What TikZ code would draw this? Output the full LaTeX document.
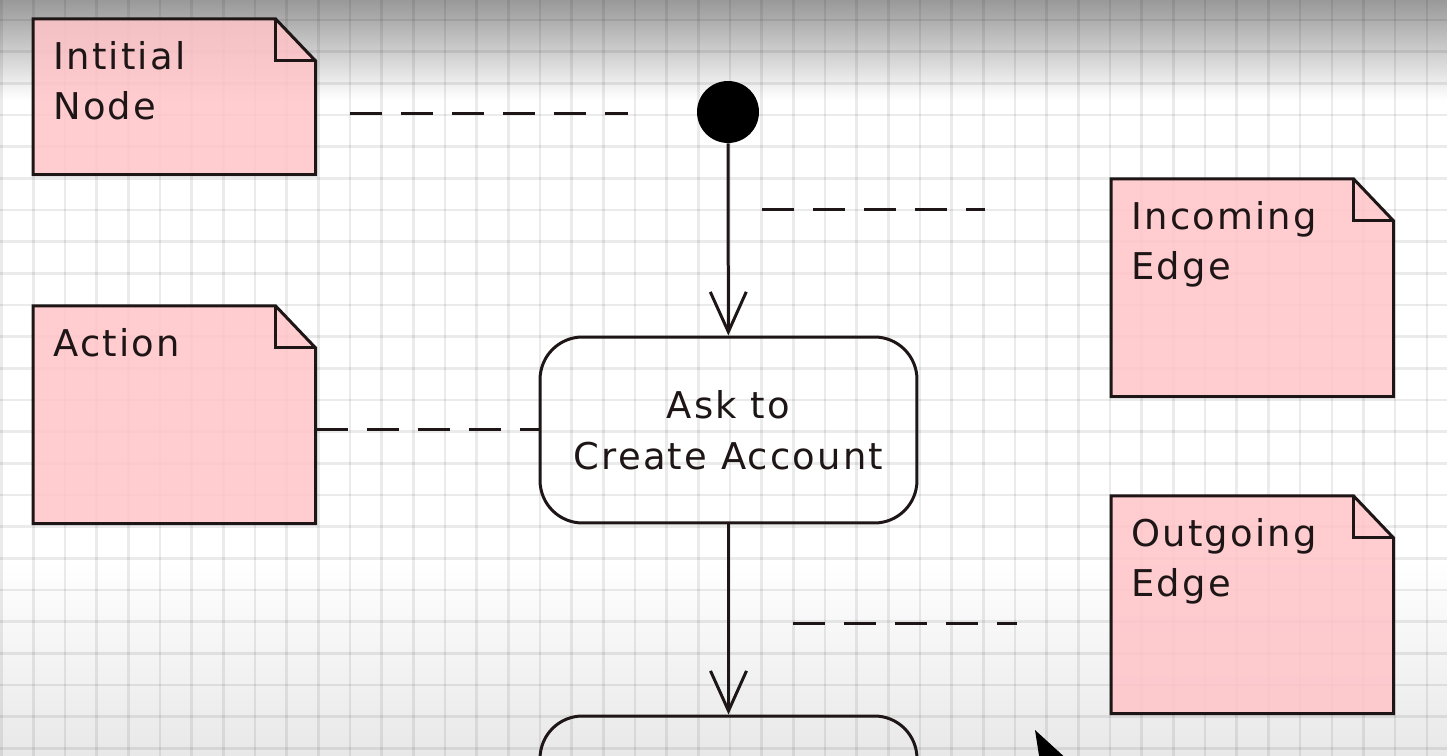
\documentclass[tikz,border=0pt]{standalone}
\usepackage{fontspec}
\newfontfamily\umlfont[LetterSpace=6]{DejaVu Sans}
\usetikzlibrary{arrows.meta}
\definecolor{notepink}{RGB}{255,196,200}
\definecolor{inkline}{RGB}{30,22,22}

\begin{document}
\begin{tikzpicture}[x=0.02cm, y=-0.02cm,
    gridline/.style = {line width=0.05cm, black, opacity=0.08},
    flow/.style = {line width=0.06cm, inkline, -{Straight Barb[length=0.8cm,width=0.72cm]}},
    dashline/.style = {line width=0.06cm, inkline, dash pattern=on 0.64cm off 0.38cm},
    initial/.style = {circle, fill=black, minimum size=1.24cm, inner sep=0},
    action/.style = {draw=inkline, line width=0.06cm, rounded corners=0.85cm,
        minimum width=7.54cm, minimum height=3.72cm, align=center,
        font=\umlfont\fontsize{21}{29}\selectfont, text=inkline},
    notebox/.style = {anchor=north west, minimum width=5.64cm, inner sep=0},
    notefill/.style = {fill=notepink, fill opacity=0.85, draw=inkline, line width=0.06cm},
    notetext/.style = {anchor=north west, inner sep=0, align=left,
        font=\umlfont\fontsize{21}{28.5}\selectfont, text=inkline}
]
    \useasboundingbox (0,0) rectangle (1447,756);
    \clip (0,0) rectangle (1447,756);

    % background and grid
    \fill[white] (0,0) rectangle (1447,756);
    \shade[top color=black!40, middle color=black!10, bottom color=white]
        (0,0) rectangle (1447,100);
    \shade[top color=white, bottom color=black!9] (0,560) rectangle (1447,756);
    \foreach \i in {0,...,45}
        \draw[gridline] ({1.6+31.67*\i},0) -- ({1.6+31.67*\i},756);
    \foreach \j in {0,...,23}
        \draw[gridline] (0,{20+31.67*\j}) -- (1447,{20+31.67*\j});

    % notes
    \node[notebox, minimum height=3.1cm]  (initnote) at (33,19) {};
    \node[notebox, minimum height=4.34cm] (actnote)  at (33,306) {};
    \node[notebox, minimum height=4.34cm] (innote)   at (1111,179) {};
    \node[notebox, minimum height=4.34cm] (outnote)  at (1111,496) {};
    \foreach \n in {initnote,actnote,innote,outnote}{
        \draw[notefill] (\n.north west) -- ([xshift=-0.8cm]\n.north east)
            -- ([yshift=-0.84cm]\n.north east) -- (\n.south east)
            -- (\n.south west) -- cycle;
        \draw[inkline, line width=0.06cm]
            ([xshift=-0.8cm]\n.north east) |- ([yshift=-0.84cm]\n.north east);
    }
    \node[notetext] (initlbl) at ([shift={(0.4cm,-0.44cm)}]initnote.north west) {Intitial\\Node};
    \node[notetext] (actlbl)  at ([shift={(0.4cm,-0.44cm)}]actnote.north west) {Action};
    \node[notetext] (inlbl)   at ([shift={(0.4cm,-0.44cm)}]innote.north west) {Incoming\\Edge};
    \node[notetext] (outlbl)  at ([shift={(0.4cm,-0.44cm)}]outnote.north west) {Outgoing\\Edge};

    % activity
    \node[initial] (start) at (728,112) {};
    \node[action] (ask) at (728.5,430) {Ask to\\Create Account};
    \node[action] (next) at (728.5,809) {};
    \draw[flow] (start) -- (ask);
    \draw[flow] (ask) -- (next);

    % dashed links
    \coordinate (d1a) at (350,114);
    \coordinate (d1b) at (628,114);
    \coordinate (d2a) at (762,210);
    \coordinate (d2b) at (985,210);
    \coordinate (d4a) at (793,623);
    \coordinate (d4b) at (1017,623);
    \draw[dashline] (d1a) -- (d1b);
    \draw[dashline] (d2a) -- (d2b);
    \draw[dashline] (actnote.east |- ask.west) -- (ask.west);
    \draw[dashline] (d4a) -- (d4b);

    % pointer
    \fill[black] (1035,730) -- (1070,762) -- (1040,762) -- cycle;
\end{tikzpicture}
\end{document}
